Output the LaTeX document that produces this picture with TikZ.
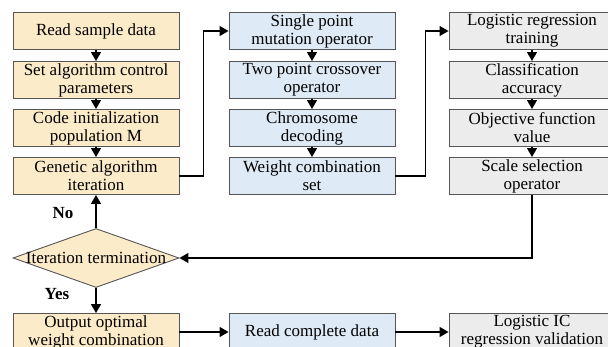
\documentclass[tikz,border=0pt]{standalone}
\usepackage{fontspec}
\setmainfont{Liberation Serif}
\usetikzlibrary{shapes.geometric, arrows.meta, positioning}

\definecolor{gaorange}{RGB}{252,235,200}
\definecolor{opblue}{RGB}{222,234,246}
\definecolor{lrgray}{RGB}{236,236,236}
\definecolor{edgegray}{RGB}{85,85,85}

\tikzset{
  stepbox/.style={draw=edgegray, line width=0.9pt, minimum width=166pt,
    minimum height=37pt, inner sep=0pt, align=center,
    font=\fontsize{17}{18}\selectfont},
  decision/.style={draw=edgegray, line width=0.9pt, diamond, inner sep=0pt,
    minimum width=166pt, minimum height=59pt, fill=gaorange},
  flow/.style={line width=1.3pt, -{Triangle[width=10pt,length=9pt]}},
  answer/.style={font=\fontsize{17}{18}\selectfont\bfseries}
}

\begin{document}
\begin{tikzpicture}[x=1pt, y=-1pt]
\useasboundingbox (0,0) rectangle (608,347);
  % Genetic algorithm column
  \node[stepbox, fill=gaorange] (read)  at (96,31)  {Read sample data};
  \node[stepbox, fill=gaorange] (param) at (96,80)  {Set algorithm control\\parameters};
  \node[stepbox, fill=gaorange] (init)  at (96,128) {Code initialization\\population M};
  \node[stepbox, fill=gaorange] (gen)   at (96,176) {Genetic algorithm\\iteration};
  % Operator column
  \node[stepbox, fill=opblue] (mut)   at (312,31)  {Single point\\mutation operator};
  \node[stepbox, fill=opblue] (cross) at (312,80)  {Two point crossover\\operator};
  \node[stepbox, fill=opblue] (dec)   at (312,128) {Chromosome\\decoding};
  \node[stepbox, fill=opblue] (wset)  at (312,176) {Weight combination\\set};
  % Logistic regression column
  \node[stepbox, fill=lrgray] (train) at (532,31)  {Logistic regression\\training};
  \node[stepbox, fill=lrgray] (acc)   at (532,80)  {Classification\\accuracy};
  \node[stepbox, fill=lrgray] (obj)   at (532,128) {Objective function\\value};
  \node[stepbox, fill=lrgray] (scale) at (532,176) {Scale selection\\operator};
  % Termination test
  \node[decision] (iter) at (96,258) {};
  \node[font=\fontsize{17}{18}\selectfont] (itertext) at (iter) {Iteration termination};
  % Bottom row
  \node[stepbox, fill=gaorange] (best)  at (96,332)  {Output optimal\\weight combination};
  \node[stepbox, fill=opblue]   (full)  at (312,332) {Read complete data};
  \node[stepbox, fill=lrgray]   (valid) at (532,332) {Logistic IC\\regression validation};
  % Connectors
  \draw[flow] (read) -- (param);
  \draw[flow] (param) -- (init);
  \draw[flow] (init) -- (gen);
  \draw[flow] (mut) -- (cross);
  \draw[flow] (cross) -- (dec);
  \draw[flow] (dec) -- (wset);
  \draw[flow] (train) -- (acc);
  \draw[flow] (acc) -- (obj);
  \draw[flow] (obj) -- (scale);
  \draw[flow] (gen.east) -- ++(24,0) |- (mut.west);
  \draw[flow] (wset.east) -- ++(30,0) |- (train.west);
  \draw[flow] (scale.south) |- (iter.east);
  \draw[flow] (iter.north) -- (gen.south);
  \draw[flow] (iter.south) -- (best.north);
  \draw[flow] (best) -- (full);
  \draw[flow] (full) -- (valid);
  % Branch labels
  \node[answer] (no)  at (63,213) {No};
  \node[answer] (yes) at (57,294) {Yes};
\end{tikzpicture}
\end{document}
